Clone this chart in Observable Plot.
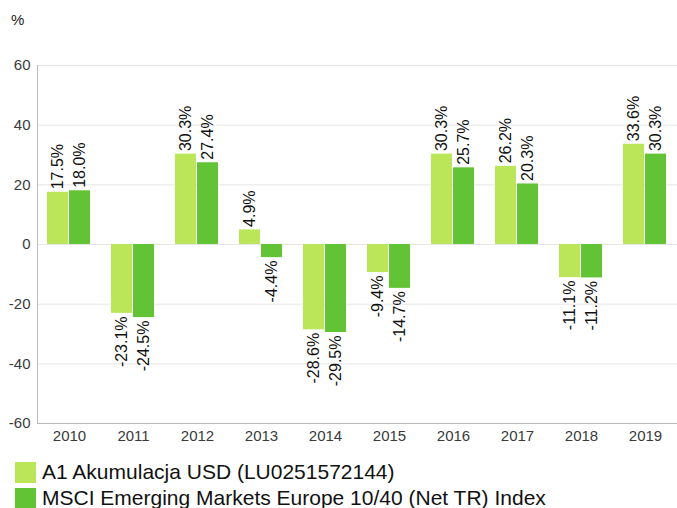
<!DOCTYPE html>
<html>
<head>
<meta charset="utf-8">
<script src="https://cdn.jsdelivr.net/npm/d3@7"></script>
<script src="https://cdn.jsdelivr.net/npm/@observablehq/plot@0.6"></script>
<style>
  html, body { margin: 0; padding: 0; background: #fff; }
  body { font-family: "Liberation Sans", Arial, sans-serif; width: 677px; height: 508px; overflow: hidden; }
  #wrap { position: relative; width: 677px; }
  #unit { position: absolute; left: 11px; top: 11px; font-size: 15px; color: #222; }
  .legend { margin-top: 4px; }
  .row { display: flex; align-items: center; height: 26px; font-size: 21px; line-height: 24px; color: #111; }
  .sw { width: 21px; height: 21px; margin-left: 15px; margin-right: 6px; }
</style>
</head>
<body>
<div id="wrap">
  <div id="unit">%</div>
  <div id="chart"></div>
  <div class="legend" id="legend"></div>
</div>
<script>
const years = [2010, 2011, 2012, 2013, 2014, 2015, 2016, 2017, 2018, 2019];
const seriesNames = ["A1 Akumulacja USD (LU0251572144)", "MSCI Emerging Markets Europe 10/40 (Net TR) Index"];
const fundValues = [17.5, -23.1, 30.3, 4.9, -28.6, -9.4, 30.3, 26.2, -11.1, 33.6];
const indexValues = [18.0, -24.5, 27.4, -4.4, -29.5, -14.7, 25.7, 20.3, -11.2, 30.3];
const yTicks = [-60, -40, -20, 0, 20, 40, 60];
const colors = ["#bce65a", "#62c434"];

const data = [];
years.forEach((yr, i) => {
  data.push({year: yr, series: seriesNames[0], value: fundValues[i]});
  data.push({year: yr, series: seriesNames[1], value: indexValues[i]});
});
const fmt = d => d.value.toFixed(1) + "%";

const chart = Plot.plot({
  width: 677,
  height: 455,
  marginLeft: 37,
  marginRight: 0,
  marginTop: 65,
  marginBottom: 32,
  style: {fontFamily: "'Liberation Sans', Arial, sans-serif", fontSize: "15px", background: "#fff"},
  fx: {domain: years, padding: 0, axis: null},
  x: {domain: seriesNames, paddingInner: 0.04, paddingOuter: 0.43, axis: null},
  y: {domain: [-60, 60], axis: null},
  color: {domain: seriesNames, range: colors},
  marks: [
    Plot.gridY(yTicks, {stroke: "#e6e6e6", strokeOpacity: 1}),
    Plot.ruleY([-60], {stroke: "#bbbbbb"}),
    Plot.frame({anchor: "left", facetAnchor: "left", stroke: "#bbbbbb"}),
    Plot.axisY(yTicks, {tickSize: 0, tickPadding: 7, fontSize: 15, fill: "#3a3a3a", label: null, tickFormat: d => String(d)}),
    Plot.axisFx({tickSize: 0, tickPadding: 7, fontSize: 15, fill: "#3a3a3a", label: null, anchor: "bottom", tickFormat: d => String(d)}),
    Plot.barY(data, {fx: "year", x: "series", y: "value", fill: "series"}),
    Plot.text(data, {filter: d => d.value >= 0, fx: "year", x: "series", y: "value", text: fmt,
      rotate: -90, textAnchor: "start", dy: -3, fontSize: 16, fill: "#111"}),
    Plot.text(data, {filter: d => d.value < 0, fx: "year", x: "series", y: "value", text: fmt,
      rotate: -90, textAnchor: "end", dy: 3, fontSize: 16, fill: "#111"})
  ]
});
document.getElementById("chart").appendChild(chart);

const legend = document.getElementById("legend");
seriesNames.forEach((name, i) => {
  const row = document.createElement("div");
  row.className = "row";
  const sw = document.createElement("div");
  sw.className = "sw";
  sw.style.background = colors[i];
  const t = document.createElement("span");
  t.textContent = name;
  row.appendChild(sw);
  row.appendChild(t);
  legend.appendChild(row);
});
</script>
</body>
</html>
